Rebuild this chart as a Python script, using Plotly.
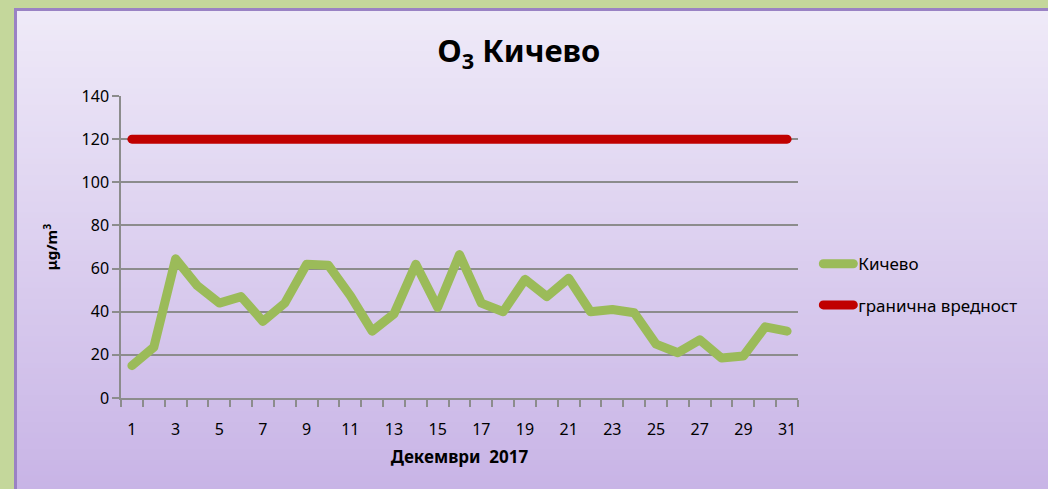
import plotly.graph_objects as go

# Daily O3 concentrations, Kičevo, December 2017
days = list(range(1, 32))
o3_kicevo = [15, 23.5, 64.5, 52, 44, 47, 35.5, 44, 62, 61.5, 47.5, 31, 39, 62, 42,
             66.5, 44, 40, 55, 47, 55.5, 40, 41, 39.5, 25, 21, 27, 18.5, 19.5, 33, 31]
limit_value = [120] * len(days)

y_ticks = [0, 20, 40, 60, 80, 100, 120, 140]
x_ticks = list(range(1, 32, 2))

FONT = "Comic Sans MS, Noto Sans, DejaVu Sans, sans-serif"

W, H = 1048, 489
L, R, T, B = 121, 250, 96, 91
pw, ph = W - L - R, H - T - B


def px_x(p):
    return (p - L) / pw


def px_y(p):
    return (H - B - p) / ph


fig = go.Figure()

fig.add_trace(go.Scatter(
    x=days, y=o3_kicevo, mode="lines", name="Кичево",
    line=dict(color="#9BBB59", width=9), legendgroup="a",
))
fig.add_trace(go.Scatter(
    x=days, y=limit_value, mode="lines", name="гранична вредност",
    line=dict(color="#C00000", width=9), legendgroup="b",
))

# vertical gradient background inside a purple frame
top_rgb = (0xEF, 0xEA, 0xF8)
bot_rgb = (0xC8, 0xB4, 0xE6)
y_top, y_bot = 8, 492
n = 90
shapes = []
for i in range(n):
    t = i / (n - 1)
    c = tuple(round(top_rgb[k] + (bot_rgb[k] - top_rgb[k]) * t) for k in range(3))
    p0 = y_top + (y_bot - y_top) * i / n
    p1 = y_top + (y_bot - y_top) * (i + 1) / n + 1
    shapes.append(dict(
        type="rect", xref="paper", yref="paper", layer="below",
        x0=px_x(14), x1=px_x(1060), y0=px_y(p1), y1=px_y(p0),
        fillcolor="rgb(%d,%d,%d)" % c, line=dict(width=0),
    ))
shapes.append(dict(
    type="rect", xref="paper", yref="paper", layer="below",
    x0=px_x(15.5), x1=px_x(1060), y0=px_y(500), y1=px_y(9.5),
    fillcolor="rgba(0,0,0,0)", line=dict(color="#9A82C4", width=3),
))

fig.update_layout(
    width=W, height=H,
    margin=dict(l=L, r=R, t=T, b=B),
    paper_bgcolor="#C4D79B",
    plot_bgcolor="rgba(0,0,0,0)",
    shapes=shapes,
    title=dict(
        text="O<sub>3</sub> Кичево", x=0.495, xanchor="center", y=0.895, yanchor="middle",
        font=dict(family=FONT, size=31, color="black", weight="bold"),
    ),
    font=dict(family=FONT, size=14, color="black"),
    showlegend=True,
    legend=dict(
        x=1.03, xanchor="left", y=0.375, yanchor="middle",
        bgcolor="rgba(0,0,0,0)", tracegroupgap=16, traceorder="grouped",
        font=dict(family=FONT, size=17, color="black"),
    ),
    xaxis=dict(
        range=[0.5, 31.5], tickvals=x_ticks, ticktext=[str(v) for v in x_ticks],
        ticks="outside", ticklen=6, tickcolor="rgba(0,0,0,0)", ticklabelstandoff=10,
        minor=dict(tickvals=[d + 0.5 for d in [0] + days], ticks="outside",
                   ticklen=7, tickcolor="#8C8C8C", tickwidth=1.5, showgrid=False),
        showline=True, linecolor="#8C8C8C", linewidth=1.5, showgrid=False, zeroline=False,
        title=dict(text="Декември  2017", standoff=12,
                   font=dict(family=FONT, size=17, color="black", weight="bold")),
        tickfont=dict(family=FONT, size=16),
    ),
    yaxis=dict(
        range=[0, 140], tickvals=y_ticks, ticks="outside", ticklen=7,
        tickcolor="#8C8C8C", tickwidth=1.5,
        showline=True, linecolor="#8C8C8C", linewidth=1.5,
        showgrid=True, gridcolor="#8C8C8C", gridwidth=1.5, zeroline=False,
        title=dict(text="μg/m<sup>3</sup>", standoff=20,
                   font=dict(family=FONT, size=15, color="black", weight="bold")),
        tickfont=dict(family=FONT, size=16),
    ),
)

post = """
document.querySelectorAll('.scatterlayer .js-line, .legendlines path').forEach(function(p){
  p.style.strokeLinecap = 'round';
  p.style.strokeLinejoin = 'round';
});
"""

fig.write_html("out.html", post_script=post)
